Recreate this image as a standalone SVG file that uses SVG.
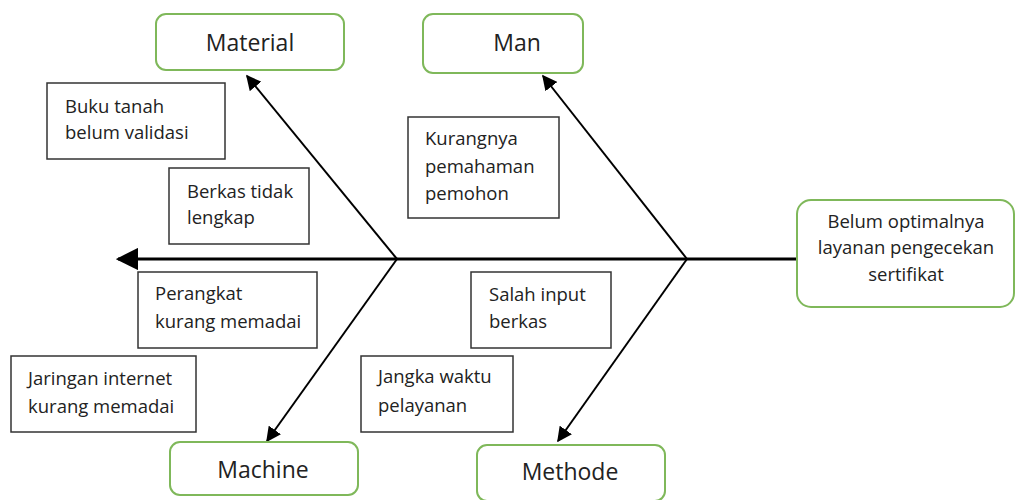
<svg xmlns="http://www.w3.org/2000/svg" width="1016" height="500" viewBox="0 0 1016 500">
<style>
.g{fill:#fff;stroke:#7fb85a;stroke-width:2}
.b{fill:#fff;stroke:#333;stroke-width:1.5}
.t{font-family:"Open Sans",Lato,sans-serif;font-size:18.5px;fill:#222}
.h{font-family:"Open Sans",Lato,sans-serif;font-size:23px;fill:#222;text-anchor:middle}
.c{stroke:#000;stroke-width:2;fill:none}
</style>
<defs>
<marker id="ah" viewBox="0 0 10 10" refX="9" refY="5" markerWidth="7.5" markerHeight="7.5" orient="auto" markerUnits="strokeWidth">
<path d="M0,0 L10,5 L0,10 z" fill="#000"/>
</marker>
</defs>
<rect width="1016" height="500" fill="#fff"/>
<g id="connectors">
<line class="c" x1="797" y1="259" x2="118" y2="259" marker-end="url(#ah)" style="stroke-width:3"/>
<line class="c" x1="397" y1="259" x2="247" y2="76" marker-end="url(#ah)"/>
<line class="c" x1="687" y1="259" x2="543" y2="76" marker-end="url(#ah)"/>
<line class="c" x1="397" y1="259" x2="267" y2="441" marker-end="url(#ah)"/>
<line class="c" x1="687" y1="259" x2="558" y2="441" marker-end="url(#ah)"/>
</g>
<g id="material"><rect class="g" x="156" y="14" width="188" height="56" rx="10"/><text class="h" x="250" y="51">Material</text></g>
<g id="man"><rect class="g" x="423" y="14" width="160" height="59" rx="10"/><text class="h" x="517" y="51">Man</text></g>
<g id="machine"><rect class="g" x="170" y="442" width="188" height="53" rx="10"/><text class="h" x="263" y="478">Machine</text></g>
<g id="methode"><rect class="g" x="477" y="445" width="188" height="56" rx="10"/><text class="h" x="570" y="480">Methode</text></g>
<g id="effect"><rect class="g" x="797" y="200" width="217" height="107" rx="14"/>
<text class="t" text-anchor="middle" x="906" y="228">Belum optimalnya</text>
<text class="t" text-anchor="middle" x="906" y="254">layanan pengecekan</text>
<text class="t" text-anchor="middle" x="906" y="281">sertifikat</text></g>
<g id="buku"><rect class="b" x="47" y="83" width="178" height="76"/><text class="t" x="65" y="113">Buku tanah</text><text class="t" x="65" y="139">belum validasi</text></g>
<g id="berkas"><rect class="b" x="169" y="168" width="140" height="76"/><text class="t" x="187" y="198">Berkas tidak</text><text class="t" x="187" y="224">lengkap</text></g>
<g id="kurangnya"><rect class="b" x="408" y="117" width="151" height="101"/><text class="t" x="425" y="145">Kurangnya</text><text class="t" x="425" y="173">pemahaman</text><text class="t" x="425" y="200">pemohon</text></g>
<g id="perangkat"><rect class="b" x="138" y="272" width="179" height="76"/><text class="t" x="155" y="300">Perangkat</text><text class="t" x="155" y="328">kurang memadai</text></g>
<g id="jaringan"><rect class="b" x="11" y="356" width="185" height="76"/><text class="t" x="28" y="385">Jaringan internet</text><text class="t" x="28" y="413">kurang memadai</text></g>
<g id="salah"><rect class="b" x="471" y="272" width="140" height="76"/><text class="t" x="489" y="301">Salah input</text><text class="t" x="489" y="328">berkas</text></g>
<g id="jangka"><rect class="b" x="361" y="356" width="152" height="76"/><text class="t" x="378" y="383">Jangka waktu</text><text class="t" x="378" y="412">pelayanan</text></g>
</svg>
